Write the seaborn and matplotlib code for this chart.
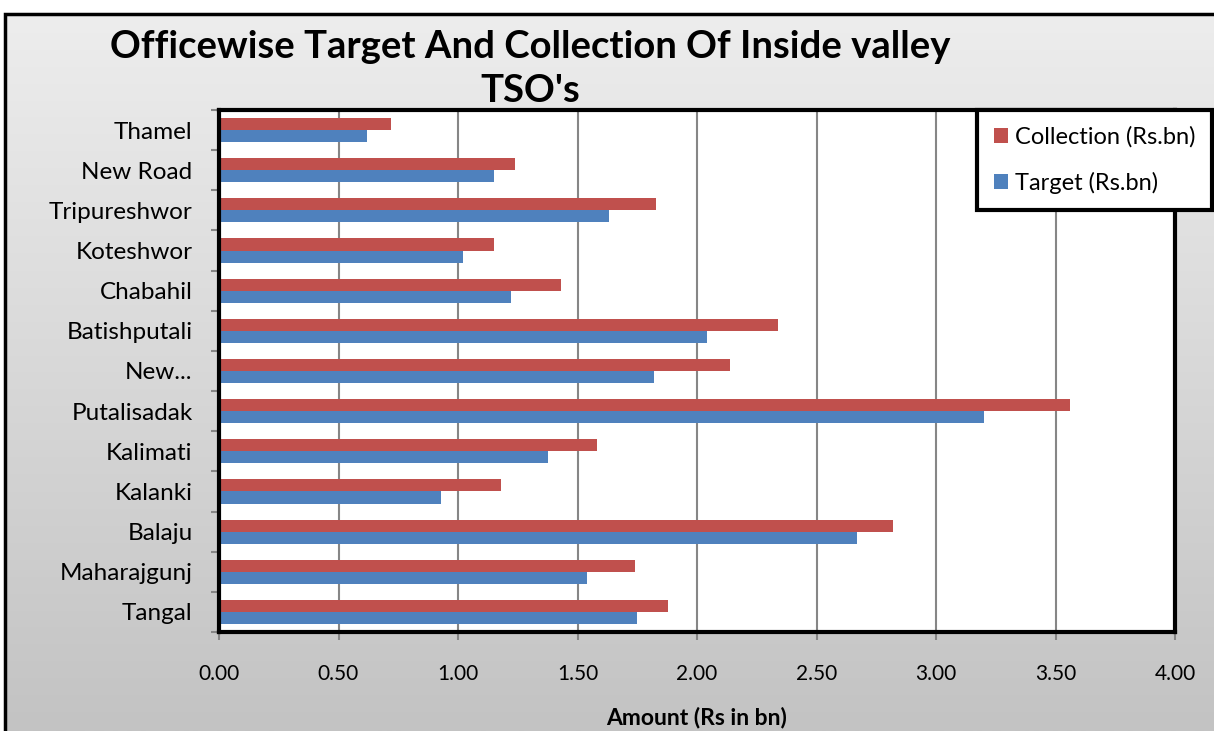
import numpy as np
import pandas as pd
import seaborn as sns
import matplotlib.pyplot as plt
from matplotlib.patches import Rectangle
from matplotlib.colors import LinearSegmentedColormap

# data (Rs in bn)
offices = ["Thamel", "New Road", "Tripureshwor", "Koteshwor", "Chabahil", "Batishputali",
           "New...", "Putalisadak", "Kalimati", "Kalanki", "Balaju", "Maharajgunj", "Tangal"]
collection = [0.72, 1.24, 1.83, 1.15, 1.43, 2.34, 2.14, 3.56, 1.58, 1.18, 2.82, 1.74, 1.88]
target = [0.62, 1.15, 1.63, 1.02, 1.22, 2.04, 1.82, 3.20, 1.375, 0.93, 2.67, 1.54, 1.75]
series = ["Collection (Rs.bn)", "Target (Rs.bn)"]
x_ticks = [0.0, 0.5, 1.0, 1.5, 2.0, 2.5, 3.0, 3.5, 4.0]

#long format for seaborn
df = pd.DataFrame({
    "Office": offices * 2,
    "Amount": collection + target,
    "Series": [series[0]] * len(offices) + [series[1]] * len(offices),
})

sns.set_theme(style="white")
plt.rcParams['font.family'] = ['Lato', 'DejaVu Sans']
plt.rcParams['text.color'] = 'black'
plt.rcParams['xtick.labelcolor'] = 'black'
plt.rcParams['ytick.labelcolor'] = 'black'

W, H = 1214, 731
fig = plt.figure(figsize=(W / 100, H / 100), dpi=100)

#grey gradient background inside the chart frame
bg = fig.add_axes([5 / W, 0, 1 - 5 / W, 1 - 14 / H], zorder=0)
grad = np.linspace(0, 1, 256).reshape(-1, 1)
bg.imshow(grad, aspect='auto', cmap=LinearSegmentedColormap.from_list('bg', ['#ededed', '#c3c3c3']))
bg.axis('off')
fig.patches.append(Rectangle((5 / W, -0.05), 1.0, 1 - 14 / H + 0.05, transform=fig.transFigure,
                             fill=False, lw=2.5, ec='black', zorder=0.5))

left, right, top, bottom = 219 / W, 1175 / W, 1 - 110 / H, 1 - 632 / H
ax = fig.add_axes([left, bottom, right - left, top - bottom], zorder=1)
ax.set_facecolor('white')

sns.barplot(data=df, y="Office", x="Amount", hue="Series", hue_order=series, order=offices,
            orient='h', palette=['#C0504D', '#4F81BD'], saturation=1, width=0.6,
            linewidth=0, ax=ax)

ax.set_xlim(0, 4)
ax.set_xticks(x_ticks)
ax.set_xticklabels([f"{t:.2f}" for t in x_ticks], fontsize=15)
ax.grid(axis='x', color='#868686', lw=1.5)
ax.set_axisbelow(True)
for s in ax.spines.values():
    s.set_color('black')
    s.set_linewidth(3)

ax.tick_params(axis='y', which='major', length=0, pad=19, labelsize=17.5)
ax.set_yticks(np.arange(-0.5, len(offices), 1), minor=True)
ax.tick_params(axis='y', which='minor', left=True, length=6, width=1.5, color='#868686')
ax.tick_params(axis='x', which='major', bottom=True, length=6, width=1.5, color='#868686', pad=17)
ax.set_xlabel("")
ax.set_ylabel("")

fig.text(697 / W, 1 - 718 / H, "Amount (Rs in bn)", ha='center', va='center',
         fontsize=16.5, fontweight='bold')
fig.text(530 / W, 1 - 69 / H, "Officewise Target And Collection Of Inside valley\nTSO's",
         ha='center', va='center', multialignment='center', fontsize=27.5, fontweight='bold',
         linespacing=1.35)

handles, labels = ax.get_legend_handles_labels()
leg = ax.legend(handles, labels, loc='upper left', bbox_to_anchor=(977 / W, 1 - 110 / H),
                bbox_transform=fig.transFigure, frameon=True, fancybox=False, edgecolor='black',
                framealpha=1, fontsize=17, handlelength=0.6, handleheight=0.6, labelspacing=1.0,
                borderpad=0.7, handletextpad=0.3, borderaxespad=0)
leg.get_frame().set_linewidth(3)
leg.set_zorder(5)

fig.savefig('out.png', dpi=100)
